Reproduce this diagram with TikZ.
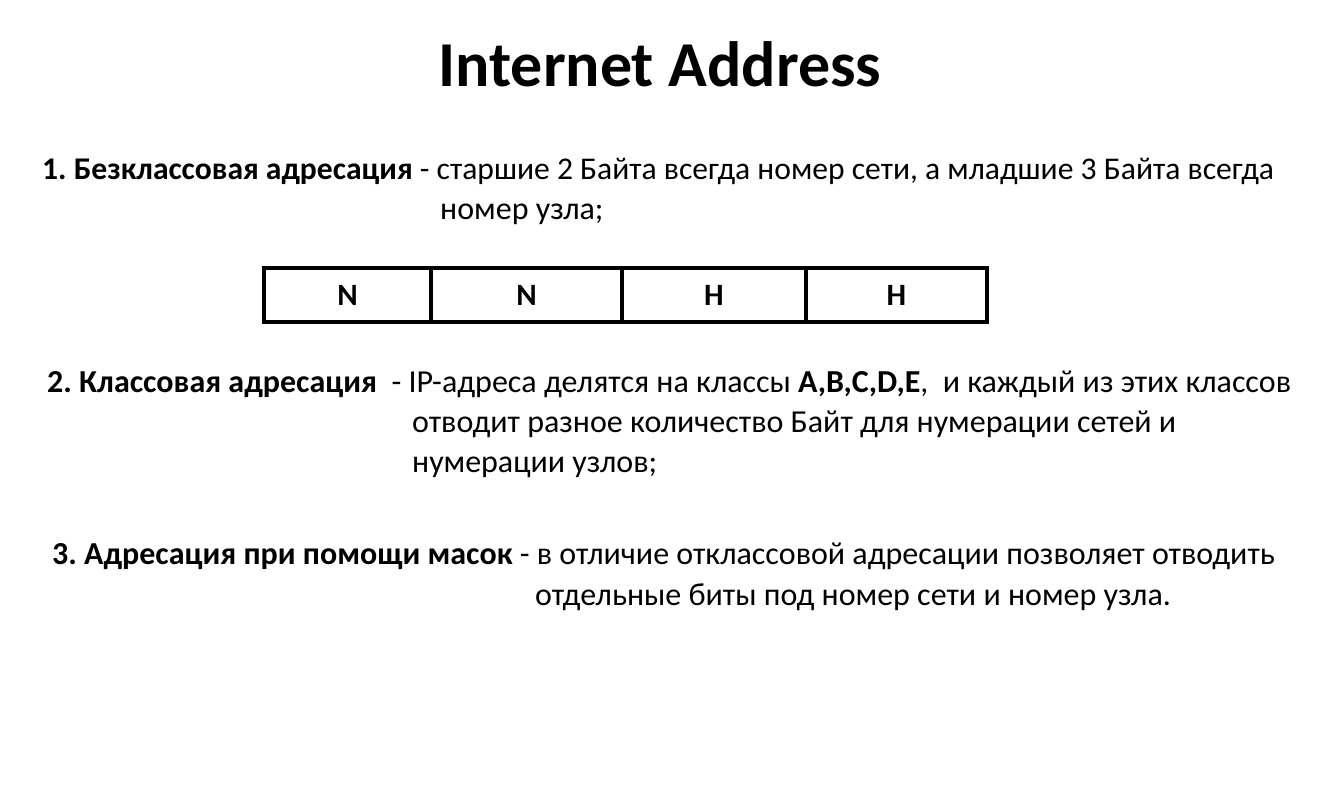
\documentclass[tikz,border=0pt]{standalone}
\usepackage{fontspec}
\setmainfont{Carlito}
\frenchspacing
\begin{document}
\begin{tikzpicture}[x=1pt,y=-1pt,
  body/.style={inner sep=0pt,anchor=base west,font=\fontsize{32}{40}\selectfont},
  ttl/.style={inner sep=0pt,anchor=base,font=\fontsize{64}{70}\selectfont\bfseries},
  cell/.style={draw,line width=4pt,minimum height=54pt,inner sep=0pt,font=\fontsize{31}{36}\selectfont\bfseries},
]
\useasboundingbox[fill=white] (0,0) rectangle (1328,798);
\node[ttl] (title) at (660,86) {Internet Address};

\node[body,font=\fontsize{31.6}{40}\selectfont] (l1a) at (42,179) {\textbf{1. Безклассовая адресация} - старшие 2 Байта всегда номер сети, а младшие 3 Байта всегда};
\node[body] (l1b) at (440,219) {номер узла;};

\node[cell,minimum width=167pt] (c1) at (347.5,295) {N};
\node[cell,minimum width=191pt] (c2) at (526.5,295) {N};
\node[cell,minimum width=184pt] (c3) at (714,295) {H};
\node[cell,minimum width=181pt] (c4) at (896.5,295) {H};

\node[body] (l2a) at (47,392) {\textbf{2. Классовая адресация}~ - IP-адреса делятся на классы \textbf{A,B,C,D,E},~ и каждый из этих классов};
\node[body] (l2b) at (412,432) {отводит разное количество Байт для нумерации сетей и};
\node[body] (l2c) at (412,472) {нумерации узлов;};

\node[body] (l3a) at (52,564) {\textbf{3. Адресация при помощи масок} - в отличие отклассовой адресации позволяет отводить};
\node[body] (l3b) at (535,605) {отдельные биты под номер сети и номер узла.};
\end{tikzpicture}
\end{document}
